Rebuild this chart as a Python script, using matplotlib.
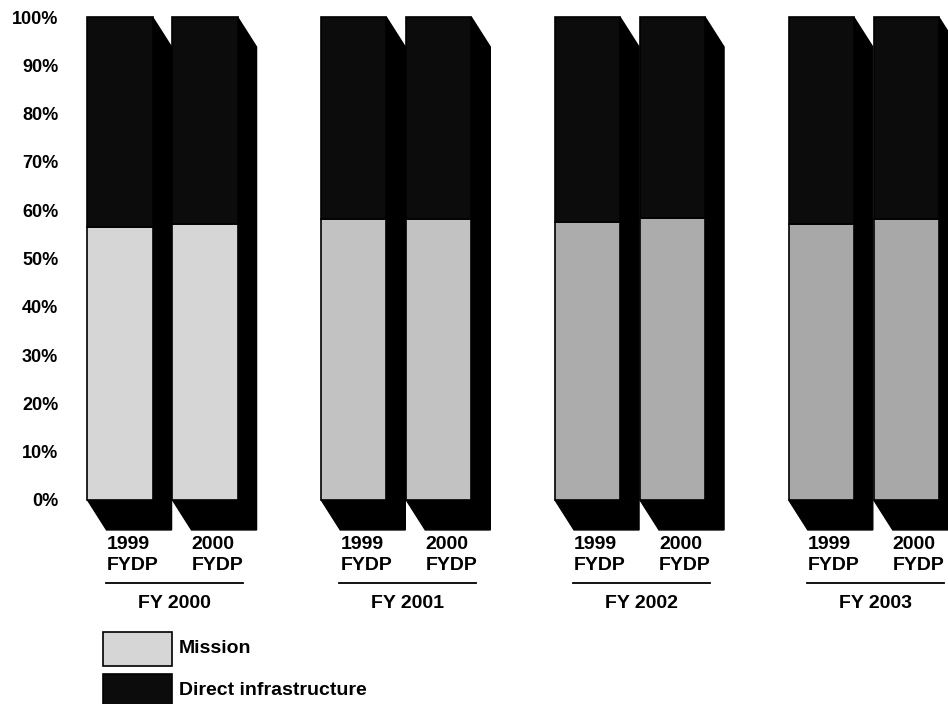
#!/usr/bin/env python3
"""
Mission vs direct infrastructure share, 1999 and 2000 FYDP, FY 2000-2003.
Pseudo-3D stacked bars; saves out.png.
"""
import matplotlib.pyplot as plt
from matplotlib.patches import Polygon, Rectangle

plt.rcParams['font.family'] = ['Liberation Sans', 'DejaVu Sans']
plt.rcParams['font.weight'] = 'bold'

years = ["FY 2000", "FY 2001", "FY 2002", "FY 2003"]
plans = ["1999\nFYDP", "2000\nFYDP"]
# one value per bar, in order: FY2000 (1999, 2000 FYDP), FY2001 (...), ...
mission = [56.5, 57.1, 58.2, 58.2, 57.5, 58.4, 57.1, 58.2]
infrastructure = [43.5, 42.9, 41.8, 41.8, 42.5, 41.6, 42.9, 41.8]
yticks = list(range(0, 101, 10))

# styling
mission_shade = ['#d6d6d6', '#c2c2c2', '#acacac', '#a8a8a8']  # per fiscal year
infra_col = '#0c0c0c'
group_step = 2.75
width = 0.765
dx, dy = 0.224, 6.2   # depth offset (x units, percent units)


def draw_bar(ax, x, low, high, shade):
    L, R = x - width/2, x + width/2
    top = low + high
    # depth (right side + bottom) in black
    depth = Polygon([(R, top), (R+dx, top-dy), (R+dx, -dy), (L+dx, -dy),
                     (L, 0), (R, 0)], closed=True, fc='black', ec='black',
                    lw=1, clip_on=False)
    ax.add_patch(depth)
    ax.bar(x, low, width, bottom=0, color=shade, edgecolor='black', lw=1.2,
           clip_on=False)
    ax.bar(x, high, width, bottom=low, color=infra_col, edgecolor='black',
           lw=1.2, clip_on=False)
    return L


def main():
    fig = plt.figure(figsize=(9.48, 7.04), dpi=100)
    W, H = 948, 704
    ax = fig.add_axes([75/W, (H-500)/H, (W-75)/W, 483/H])
    ax.set_xlim((75-120)/85, (W-120)/85)
    ax.set_ylim(0, 100)

    for g, year in enumerate(years):
        lefts = []
        for b, plan in enumerate(plans):
            i = 2*g + b
            x = g*group_step + b
            L = draw_bar(ax, x, mission[i], infrastructure[i], mission_shade[g])
            lefts.append(L)
            ax.text(L + dx, -7.5, plan, ha='left', va='top', fontsize=14,
                    fontweight='bold', linespacing=1.3, clip_on=False)
        x0 = lefts[0] + dx - 0.01
        x1 = lefts[1] + dx + 0.6
        ax.plot([x0, x1], [-17.2, -17.2], color='black', lw=1.3, clip_on=False)
        ax.text((x0+x1)/2, -19.6, year, ha='center', va='top', fontsize=14,
                fontweight='bold', clip_on=False)

    # legend
    ax.add_patch(Rectangle((-0.2, -34.4), 0.81, 7.1, fc=mission_shade[0],
                           ec='black', lw=1.2, clip_on=False))
    ax.add_patch(Rectangle((-0.2, -43.2), 0.81, 7.1, fc=infra_col,
                           ec='black', lw=1.2, clip_on=False))
    ax.text(0.69, -30.8, "Mission", ha='left', va='center', fontsize=14,
            fontweight='bold', clip_on=False)
    ax.text(0.69, -39.4, "Direct infrastructure", ha='left', va='center',
            fontsize=14, fontweight='bold', clip_on=False)

    ax.set_yticks(yticks)
    ax.set_yticklabels([f"{t}%" for t in yticks], fontsize=13,
                       fontweight='bold')
    ax.tick_params(axis='y', length=0, pad=12)
    ax.set_xticks([])
    for s in ax.spines.values():
        s.set_visible(False)

    fig.savefig("out.png", dpi=100)


if __name__ == "__main__":
    main()
